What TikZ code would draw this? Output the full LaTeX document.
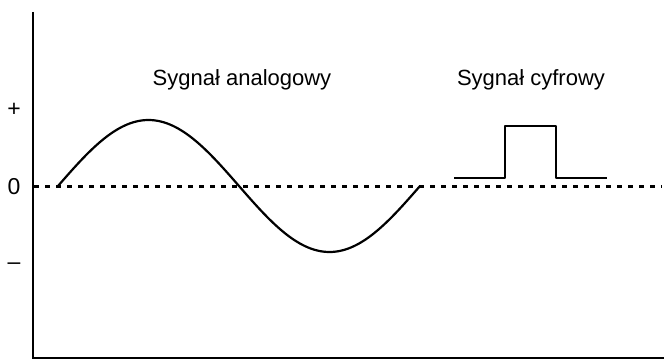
\documentclass[tikz,border=0pt]{standalone}
\usepackage{fontspec}
\setmainfont{Liberation Sans}
\begin{document}
\begin{tikzpicture}[x=1pt,y=-1pt,
  axis/.style={line width=2.8pt},
  wave/.style={line width=2.2pt, line join=round},
  zeroline/.style={line width=3pt, dash pattern=on 4.5pt off 6.5pt},
  lbl/.style={font=\fontsize{22}{26}\selectfont, inner sep=0pt},
  tick/.style={font=\fontsize{23}{27}\selectfont, inner sep=0pt}]
\useasboundingbox (0,0) rectangle (664,361);
\coordinate (ytop) at (33,12);
\coordinate (origin) at (33,358);
\coordinate (xend) at (664,358);
\coordinate (z0) at (34,186);
\coordinate (z1) at (662,186);
\draw[zeroline] (z0) -- (z1);
\draw[axis] (ytop) -- (origin) -- (xend);
\node[tick] (plus) at (14,110) {+};
\node[tick] (zero) at (14,187) {0};
\node[tick] (minus) at (14,266) {\textendash};
\node[lbl] (an) at (242,80) {Sygnał analogowy};
\node[lbl] (cy) at (531,80) {Sygnał cyfrowy};
\draw[wave] plot[domain=0:362, samples=80, smooth] ({58+\x},{186-66*sin(\x*0.99448)});
\draw[wave] (454,178) -- (505,178) -- (505,126) -- (556,126) -- (556,178) -- (607,178);
\end{tikzpicture}
\end{document}
